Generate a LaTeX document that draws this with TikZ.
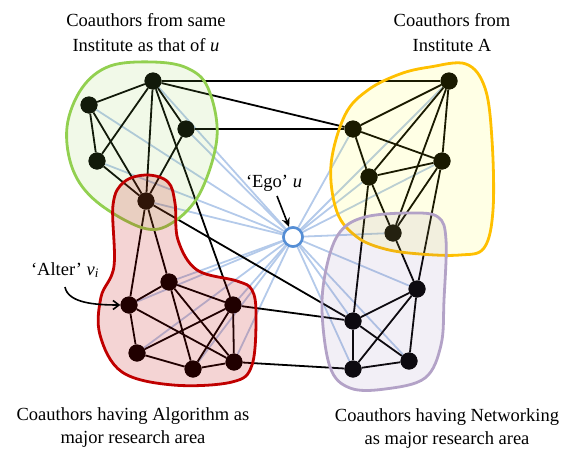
\documentclass[tikz,border=0pt]{standalone}
\usepackage{fontspec}
\setmainfont{Liberation Serif}
\usetikzlibrary{arrows.meta}
\definecolor{grnB}{HTML}{92D050}
\definecolor{ylwB}{HTML}{FFC000}
\definecolor{ylwF}{HTML}{FFFF00}
\definecolor{purB}{HTML}{B3A2C7}
\definecolor{purF}{HTML}{8064A2}
\definecolor{redB}{HTML}{C00000}
\definecolor{egoB}{HTML}{558ED5}
\definecolor{egoL}{HTML}{B4CAEA}
\begin{document}
\begin{tikzpicture}[x=1pt,y=-1pt,
  vtx/.style={circle,fill=black,inner sep=0pt,minimum size=17pt},
  edge/.style={line width=1.8pt,black},
  egoedge/.style={line width=1.8pt,egoL},
  egostyle/.style={circle,draw=egoB,line width=2.5pt,fill=white,minimum size=19pt,inner sep=0pt},
  blob/.style={line width=2.8pt,fill opacity=#1},
  lbl/.style={font=\fontsize{18.5}{24}\selectfont,inner sep=0pt,anchor=base}]
\useasboundingbox (0,0) rectangle (578,450);
% vertices
\node[vtx] (g1) at (153,81) {};
\node[vtx] (g2) at (89,105) {};
\node[vtx] (g3) at (186,129) {};
\node[vtx] (g4) at (97,161) {};
\node[vtx] (r1) at (146,201) {};
\node[vtx] (r2) at (169,282) {};
\node[vtx] (r3) at (129,305) {};
\node[vtx] (r4) at (233,305) {};
\node[vtx] (r5) at (137,353) {};
\node[vtx] (r6) at (193,369) {};
\node[vtx] (r7) at (234,362) {};
\node[vtx] (y1) at (449,81) {};
\node[vtx] (y2) at (353,129) {};
\node[vtx] (y3) at (442,161) {};
\node[vtx] (y4) at (369,177) {};
\node[vtx] (yp) at (393,233) {};
\node[vtx] (p1) at (417,289) {};
\node[vtx] (p2) at (353,321) {};
\node[vtx] (p3) at (353,369) {};
\node[vtx] (p4) at (409,361) {};
\node[egostyle] (ego) at (293,237) {};
% ego edges
\foreach \n in {g1,g2,g3,g4,r1,r2,r3,r4,r5,r6,r7,y1,y2,y3,y4,yp,p1,p2,p3,p4}
  \draw[egoedge] (ego) -- (\n);
% black edges
\foreach \a/\b in {g1/g2,g1/g4,g1/r1,g1/g3,g1/r4,g1/y1,g1/y2,g3/y2,g3/r1,g2/g4,g2/r1,g4/r1,r1/p2,r1/r3,r1/r2,
  r2/r3,r3/r5,r3/r7,r2/r4,r2/r6,r2/r7,r5/r4,r5/r6,r6/r7,r6/r4,r4/r7,r4/p2,r7/p3,
  y1/y2,y1/y4,y1/yp,y1/y3,y2/y3,y2/y4,y4/y3,y4/yp,y4/p2,y3/yp,y3/p1,yp/p1,
  p1/p2,p1/p3,p1/p4,p2/p3,p2/p4,p3/p4}
  \draw[edge] (\a) -- (\b);
% vertices on top of edges
\foreach \n in {g1,g2,g3,g4,r1,r2,r3,r4,r5,r6,r7,y1,y2,y3,y4,yp,p1,p2,p3,p4}
  \fill[black] (\n) circle (8.5pt);
\node[egostyle] at (ego) {};
% groups
\path[blob=0.13,draw=grnB,fill=grnB] plot[smooth cycle,tension=0.6] coordinates {
  (67,127) (73,170) (97,202) (143,228) (172,223) (200,193) (217,137) (208,88) (187,68) (153,62) (110,66) (82,88)};
\path[blob=0.17,draw=redB,fill=redB] plot[smooth cycle,tension=0.6] coordinates {
  (147,175) (168,182) (175,203) (178,240) (197,270) (237,281) (252,290) (256,315) (252,365) (232,382) (173,385) (122,372) (100,335) (101,297) (114,266) (113,205) (124,182)};
\path[blob=0.1,draw=ylwB,fill=ylwF] plot[smooth cycle,tension=0.6] coordinates {
  (331,165) (337,212) (357,237) (385,249) (420,254) (460,255) (484,248) (493,210) (492,140) (485,88) (466,64) (430,67) (400,74) (368,90) (345,115)};
\path[blob=0.1,draw=purB,fill=purF] plot[smooth cycle,tension=0.6] coordinates {
  (322,310) (327,265) (340,232) (365,217) (410,213) (438,217) (446,240) (444,300) (441,345) (425,378) (385,389) (350,388) (330,367)};
% labels
\node[lbl] (tl1) at (146,26.5) {Coauthors from same};
\node[lbl] (tl2) at (146,51) {Institute as that of \textit{u}};
\node[lbl] (tr1) at (452,26.5) {Coauthors from};
\node[lbl] (tr2) at (452,51) {Institute A};
\node[lbl] (bl1) at (133,420) {Coauthors having Algorithm as};
\node[lbl] (bl2) at (133,443) {major research area};
\node[lbl] (br1) at (447,421) {Coauthors having Networking};
\node[lbl] (br2) at (447,444) {as major research area};
\node[lbl] (egolbl) at (274,187) {‘Ego’ \textit{u}};
\node[lbl] (alterlbl) at (65,275) {‘Alter’ \textit{v}\textsubscript{\textit{i}}};
% arrows
\coordinate (egoarr) at (277,196);
\draw[line width=1.6pt,-{Stealth[length=9pt,width=8pt]}] (egoarr) -- (ego);
\coordinate (alterarr) at (65,287);
\draw[line width=1.6pt,-{Straight Barb[length=6pt,width=9pt]}] (alterarr) .. controls (68,303) and (95,305) .. (r3);
\end{tikzpicture}
\end{document}
